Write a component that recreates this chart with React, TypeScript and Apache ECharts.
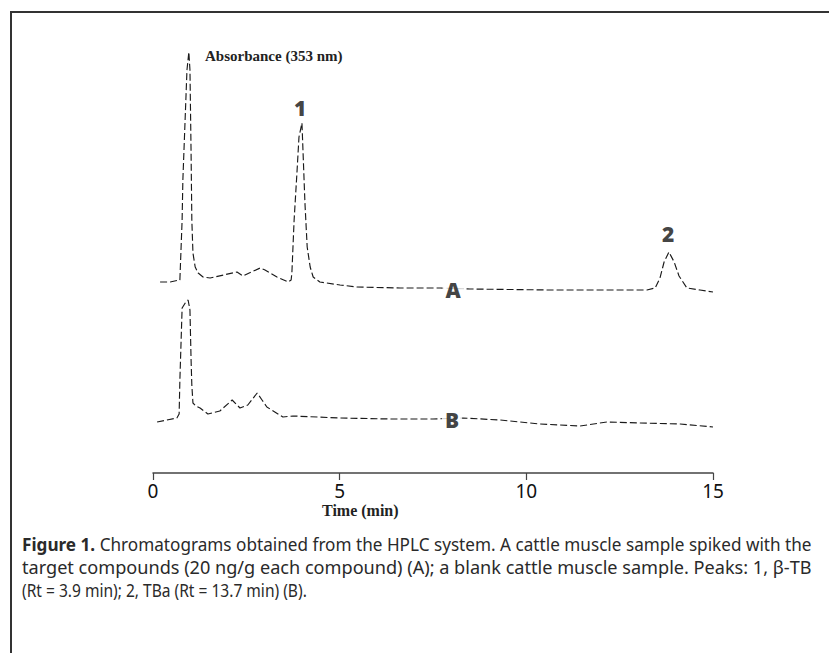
import React, { useEffect, useRef } from "react";
import * as echarts from "echarts";

// Trace A (spiked sample): retention time (min) and detector signal (arbitrary units)
const timeA = [0.19, 0.46, 0.70, 0.72, 0.78, 0.80, 0.86, 0.91, 0.96, 0.99, 1.02, 1.04, 1.07, 1.13, 1.21, 1.34, 1.53, 2.25, 2.41, 2.87, 3.00, 3.32, 3.62, 3.70, 3.72, 3.78, 3.86, 3.91, 3.99, 4.02, 4.07, 4.13, 4.21, 4.29, 4.47, 5.01, 5.46, 6.62, 7.69, 8.49, 10.63, 13.23, 13.45, 13.58, 13.69, 13.82, 13.96, 14.09, 14.30, 14.65, 15.0];
const signalA = [191, 191, 193, 193, 253, 293, 353, 403, 421, 403, 320, 253, 220, 206, 200, 196, 195, 201, 197, 205, 203, 196, 191, 193, 200, 253, 303, 336, 350, 320, 270, 226, 206, 196, 191, 188, 186, 185, 185, 184, 183, 183, 185, 195, 211, 221, 211, 197, 185, 183, 181];

// Trace B (blank sample)
const timeB = [0.11, 0.64, 0.70, 0.72, 0.78, 0.88, 0.94, 0.99, 1.02, 1.04, 1.07, 1.15, 1.26, 1.47, 1.79, 2.12, 2.33, 2.54, 2.79, 2.92, 3.05, 3.48, 3.75, 5.01, 6.35, 7.50, 8.30, 9.30, 10.37, 11.44, 12.16, 13.05, 14.12, 15.0];
const signalB = [51, 55, 59, 93, 165, 171, 173, 163, 113, 88, 70, 67, 65, 59, 62, 73, 65, 68, 80, 73, 66, 56, 57, 55, 54, 54, 55, 53, 49, 47, 51, 50, 49, 46];

// Annotations placed in data coordinates
const annotationText = ["1", "2", "A", "B"];
const annotationTime = [3.94, 13.80, 8.04, 8.01];
const annotationSignal = [365, 239, 183, 53];

const xTicks = [0, 5, 10, 15];

const captionLines = [
  "{b|Figure 1.} Chromatograms obtained from the HPLC system. A cattle muscle sample spiked with the",
  "target compounds (20 ng/g each compound) (A); a blank cattle muscle sample. Peaks: 1, β-TB",
  "(Rt = 3.9 min); 2, TBa (Rt = 13.7 min) (B).",
];
const captionWidths = [790, 790, 285];

export default function App() {
  const ref = useRef<HTMLDivElement>(null);
  useEffect(() => {
    if (!ref.current) return;
    const chart = echarts.init(ref.current, null, { renderer: "svg" });
    const lineStyle = { color: "#1a1a1a", width: 1.15, type: [7, 3] as any };
    const capFont = "'Noto Sans', sans-serif";
    const capSize = 18;
    const rich = { b: { fontSize: capSize, fontFamily: capFont, fontWeight: "bold", fill: "#2a2a2a" } };
    const measure = (text: string) => {
      try {
        const t = new (echarts.graphic as any).Text({
          style: { text, fontSize: capSize, fontFamily: capFont, rich },
        });
        const w = t.getBoundingRect().width;
        return w > 0 ? w : 0;
      } catch (e) {
        return 0;
      }
    };
    chart.setOption({
      animation: false,
      backgroundColor: "#ffffff",
      grid: { left: 153, right: 116, top: 20, bottom: 180 },
      xAxis: {
        type: "value",
        min: xTicks[0],
        max: xTicks[xTicks.length - 1],
        interval: 5,
        splitLine: { show: false },
        axisLine: { show: true, lineStyle: { color: "#444", width: 1.5 } },
        axisTick: { show: true, length: 7, lineStyle: { color: "#444", width: 1.2 } },
        axisLabel: { fontSize: 19, color: "#111", margin: 8, fontFamily: "'Noto Sans', sans-serif" },
      },
      yAxis: { type: "value", min: 0, max: 453, show: false },
      series: [
        {
          type: "line",
          data: timeA.map((t, i) => [t, signalA[i]]),
          symbol: "none",
          lineStyle,
          z: 2,
        },
        {
          type: "line",
          data: timeB.map((t, i) => [t, signalB[i]]),
          symbol: "none",
          lineStyle,
          z: 2,
        },
        {
          type: "scatter",
          symbolSize: 0,
          z: 5,
          data: annotationText.map((s, i) => ({ value: [annotationTime[i], annotationSignal[i]], name: s })),
          label: {
            show: true,
            position: "inside",
            formatter: (p: any) => p.name,
            fontSize: 21,
            fontWeight: 800,
            color: "#111",
            fontFamily: "'Open Sans', sans-serif",
            backgroundColor: "#ffffff",
            padding: [0, 3],
          },
        },
      ],
      graphic: [
        { type: "line", shape: { x1: 10, y1: 12, x2: 829, y2: 12 }, style: { stroke: "#333", lineWidth: 2 } },
        { type: "line", shape: { x1: 11, y1: 11, x2: 11, y2: 653 }, style: { stroke: "#333", lineWidth: 2 } },
        {
          type: "text",
          left: 205,
          top: 48,
          style: { text: "Absorbance (353 nm)", font: "bold 15px 'Liberation Serif', serif", fill: "#222" },
        },
        {
          type: "text",
          left: 322,
          top: 502,
          style: { text: "Time (min)", font: "bold 16px 'Liberation Serif', serif", fill: "#222" },
        },
        ...captionLines.map((line, i) => {
          const w = measure(line);
          const sx = w > 0 ? captionWidths[i] / w : 0.93;
          return {
            type: "text",
            x: 22,
            y: 544 + i * 23,
            scaleX: sx,
            style: {
              text: line,
              fontSize: capSize,
              fontFamily: capFont,
              fill: "#2a2a2a",
              verticalAlign: "middle",
              align: "left",
              rich,
            },
          };
        }),
      ],
    });
    return () => chart.dispose();
  }, []);
  return <div ref={ref} style={{ position: "fixed", left: 0, top: 0, width: 829, height: 653 }} />;
}
